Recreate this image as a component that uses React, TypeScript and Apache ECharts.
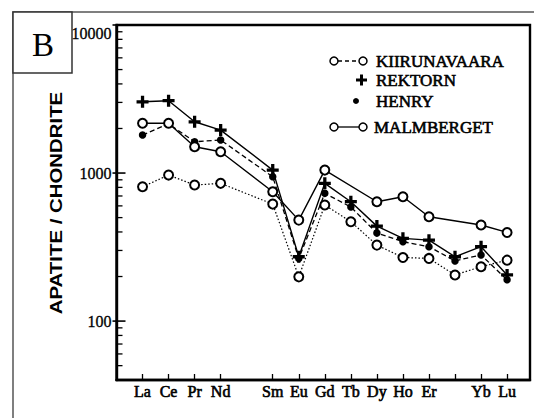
import React, { useEffect, useRef } from 'react';
import * as echarts from 'echarts';

// Rare earth elements in sequence; x position = index + 1
const elements = ['La', 'Ce', 'Pr', 'Nd', 'Pm', 'Sm', 'Eu', 'Gd', 'Tb', 'Dy', 'Ho', 'Er', 'Tm', 'Yb', 'Lu'];
const unlabelledElements = ['Pm', 'Tm'];
const untickedElements = ['Pm'];

// Chondrite-normalised apatite REE contents (null = not analysed)
const kiirunavaara = [808, 969, 830, 852, null, 617, 199, 608, 469, 326, 269, 265, 205, 233, 258];
const rektorn = [3030, 3080, 2220, 1950, null, 1047, 272, 852, 640, 438, 362, 352, 272, 318, 205];
const henry = [1807, 2150, 1627, 1671, null, 944, 265, 729, 590, 393, 344, 318, 255, 280, 190];
const malmberget = [2168, 2168, 1506, 1393, null, 748, 481, 1047, null, 640, 692, 507, null, 446, 397];

const seriesNames = ['KIIRUNAVAARA', 'REKTORN', 'HENRY', 'MALMBERGET'];

// Log axis range and ticks
const yMin = 40;
const yMax = 10000;
const yMajorTicks = [100, 1000, 10000];
const yMinorTicks = [50, 60, 70, 80, 90, 200, 300, 400, 500, 600, 700, 800, 900, 2000, 3000, 4000, 5000, 6000, 7000, 8000, 9000];

const panelLetter = 'B';
const yAxisTitle = 'APATITE / CHONDRITE';

const SERIF = 'Liberation Serif';
const SANS = 'Liberation Sans';
const PLUS = 'path://M4,0H7V4H11V7H7V11H4V7H0V4H4Z';

const toPoints = (vals: (number | null)[]) =>
  vals.map((v, i) => [i + 1, v] as [number, number | null]).filter((p) => p[1] != null);

const positionOf = (el: string) => elements.indexOf(el) + 1;

export default function App() {
  const ref = useRef<HTMLDivElement>(null);

  useEffect(() => {
    if (!ref.current) return;
    const chart = echarts.init(ref.current, undefined, { renderer: 'svg' });

    const tickValues = elements.filter((e) => !untickedElements.includes(e)).map(positionOf);
    const labelValues = elements.filter((e) => !unlabelledElements.includes(e)).map(positionOf);

    const ink = '#000';

    // Legend drawn as graphic elements (symbol + sample line + name)
    const legendRows = [
      { y: 61, name: seriesNames[0], kind: 'dashedCircles' },
      { y: 80, name: seriesNames[1], kind: 'plus' },
      { y: 101, name: seriesNames[2], kind: 'dot' },
      { y: 127, name: seriesNames[3], kind: 'solidCircles' },
    ];
    const legendGraphics: any[] = [];
    legendRows.forEach((r) => {
      if (r.kind === 'dashedCircles' || r.kind === 'solidCircles') {
        legendGraphics.push({
          type: 'line',
          shape: { x1: 338, y1: r.y, x2: 359, y2: r.y },
          style: { stroke: ink, lineWidth: 1.3, lineDash: r.kind === 'dashedCircles' ? [4, 3] : null },
        });
        [334, 363].forEach((cx) =>
          legendGraphics.push({
            type: 'circle',
            shape: { cx, cy: r.y, r: 4 },
            style: { fill: '#fff', stroke: ink, lineWidth: 1.5 },
          })
        );
      } else if (r.kind === 'plus') {
        legendGraphics.push({ type: 'rect', shape: { x: 356, y: r.y - 1.5, width: 11, height: 3 }, style: { fill: ink } });
        legendGraphics.push({ type: 'rect', shape: { x: 360, y: r.y - 5.5, width: 3, height: 11 }, style: { fill: ink } });
      } else {
        legendGraphics.push({ type: 'circle', shape: { cx: 356, cy: r.y, r: 3 }, style: { fill: ink } });
      }
      legendGraphics.push({
        type: 'text',
        x: r.kind === 'solidCircles' ? 374 : 376,
        y: r.y,
        style: {
          text: r.name,
          fontFamily: SERIF,
          fontSize: 17,
          fill: ink,
          stroke: ink,
          lineWidth: 0.6,
          align: 'left',
          verticalAlign: 'middle',
        },
      });
    });

    const option: any = {
      animation: false,
      backgroundColor: '#fff',
      grid: {
        left: 116.5,
        right: 4,
        top: 25,
        bottom: 38,
        show: true,
        borderColor: '#000',
        borderWidth: 2.4,
        backgroundColor: 'transparent',
      },
      xAxis: {
        type: 'value',
        min: 0,
        max: 15.88,
        axisLine: { show: true, lineStyle: { color: '#000', width: 2.4 } },
        axisTick: {
          show: true,
          inside: true,
          length: 6,
          customValues: tickValues,
          lineStyle: { color: '#000', width: 1.3 },
        },
        axisLabel: {
          customValues: labelValues,
          formatter: (v: number) => elements[Math.round(v) - 1] ?? '',
          margin: 3,
          color: '#000',
          fontFamily: SERIF,
          fontSize: 16,
          textBorderColor: '#000',
          textBorderWidth: 0.6,
        },
        splitLine: { show: false },
      },
      yAxis: {
        type: 'log',
        logBase: 10,
        min: yMin,
        max: yMax,
        axisLine: { show: true, lineStyle: { color: '#000', width: 2.4 } },
        axisTick: { show: false },
        axisLabel: {
          formatter: (v: number) => String(Math.round(v)),
          showMinLabel: false,
          margin: 5,
          color: '#000',
          fontFamily: SERIF,
          fontSize: 16,
          textBorderColor: '#000',
          textBorderWidth: 0.3,
          verticalAlignMaxLabel: 'top',
        },
        splitLine: { show: false },
      },
      series: [
        {
          name: seriesNames[0],
          type: 'line',
          data: toPoints(kiirunavaara),
          symbol: 'emptyCircle',
          symbolSize: 9,
          lineStyle: { color: '#000', width: 1.2, type: [1.5, 2] },
          itemStyle: { color: '#000', borderWidth: 1.6 },
        },
        {
          name: seriesNames[2],
          type: 'line',
          data: toPoints(henry),
          symbol: 'circle',
          symbolSize: 7.5,
          lineStyle: { color: '#000', width: 1.3, type: [5, 3] },
          itemStyle: { color: '#000' },
        },
        {
          name: seriesNames[1],
          type: 'line',
          data: toPoints(rektorn),
          symbol: PLUS,
          symbolSize: 12,
          lineStyle: { color: '#000', width: 1.4 },
          itemStyle: { color: '#000' },
        },
        {
          name: seriesNames[3],
          type: 'line',
          data: toPoints(malmberget),
          symbol: 'emptyCircle',
          symbolSize: 9,
          lineStyle: { color: '#000', width: 1.4 },
          itemStyle: { color: '#000', borderWidth: 1.6 },
        },
        {
          // Log-axis ticks: decades cross the axis, intermediate ticks point inward
          type: 'custom',
          coordinateSystem: 'cartesian2d',
          silent: true,
          clip: false,
          z: 5,
          data: [...yMinorTicks.map((v) => [0, v, 0]), ...yMajorTicks.map((v) => [0, v, 1])],
          renderItem: (_params: any, api: any) => {
            const p = api.coord([0, api.value(1)]);
            const major = api.value(2) === 1;
            return {
              type: 'line',
              shape: { x1: p[0] - (major ? 4 : 0), y1: p[1], x2: p[0] + (major ? 9 : 6), y2: p[1] },
              style: { stroke: '#000', lineWidth: major ? 1.6 : 1.3 },
            };
          },
        },
      ],
      graphic: [
        {
          type: 'rect',
          shape: { x: 13, y: 12, width: 600, height: 500 },
          style: { fill: 'none', stroke: '#555', lineWidth: 1.5 },
          z: -1,
        },
        {
          type: 'rect',
          shape: { x: 13, y: 12, width: 59, height: 61 },
          style: { fill: '#fff', stroke: '#333', lineWidth: 1.5 },
        },
        {
          type: 'text',
          x: 43,
          y: 45,
          style: {
            text: panelLetter,
            fontFamily: SERIF,
            fontSize: 33,
            fill: '#000',
            align: 'center',
            verticalAlign: 'middle',
          },
        },
        {
          type: 'text',
          x: 56,
          y: 203,
          rotation: Math.PI / 2,
          scaleX: 1.2,
          style: {
            text: yAxisTitle,
            fontFamily: SANS,
            fontWeight: 'bold',
            fontSize: 17,
            fill: '#000',
            align: 'center',
            verticalAlign: 'middle',
          },
        },
        ...legendGraphics,
      ],
    };

    chart.setOption(option);
    return () => chart.dispose();
  }, []);

  return (
    <div
      ref={ref}
      style={{ position: 'absolute', left: 0, top: 0, width: 534, height: 418 }}
    />
  );
}
